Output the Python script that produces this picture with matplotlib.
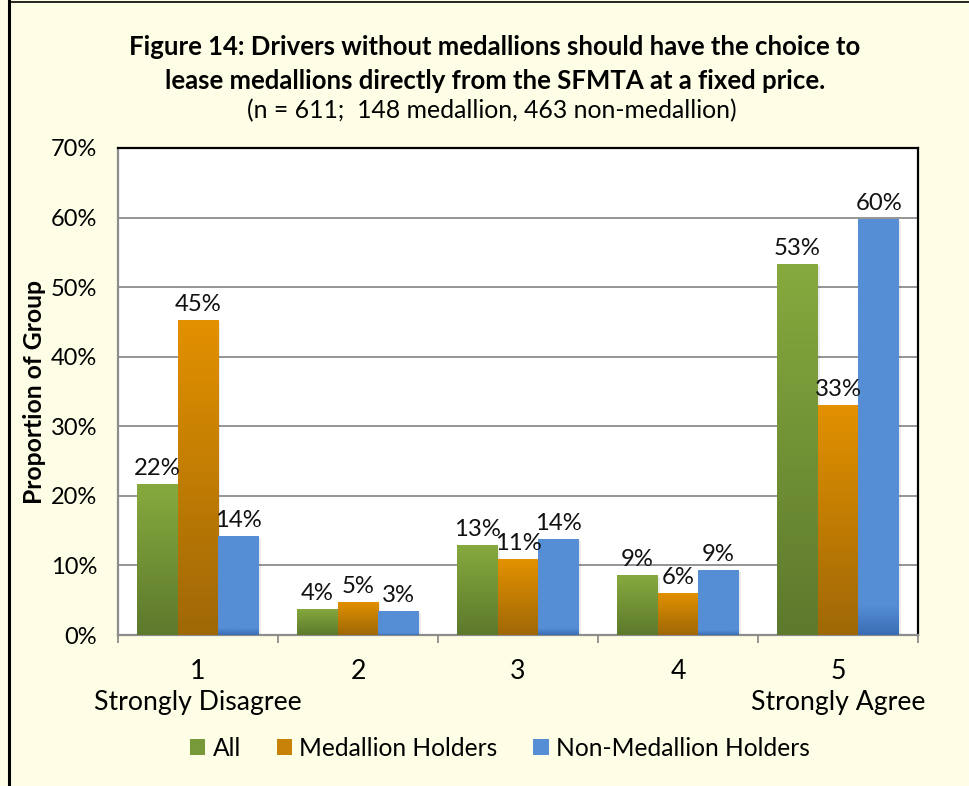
import matplotlib
matplotlib.use("Agg")
import matplotlib.pyplot as plt
import numpy as np
from matplotlib.colors import LinearSegmentedColormap
from matplotlib.patches import Patch, Rectangle
from matplotlib.lines import Line2D

categories = ["1\nStrongly Disagree", "2", "3", "4", "5\nStrongly Agree"]
series_names = ["All", "Medallion Holders", "Non-Medallion Holders"]
all_vals = [21.7, 3.8, 13.0, 8.6, 53.3]
medallion_vals = [45.3, 4.8, 10.9, 6.1, 33.1]
nonmedallion_vals = [14.2, 3.5, 13.8, 9.4, 59.8]
labels_all = ["22%", "4%", "13%", "9%", "53%"]
labels_med = ["45%", "5%", "11%", "6%", "33%"]
labels_non = ["14%", "3%", "14%", "9%", "60%"]

FONT = ["Lato", "DejaVu Sans"]
plt.rcParams["font.family"] = FONT

bg = "#FEFDE5"
fig = plt.figure(figsize=(9.7, 7.86), dpi=100, facecolor=bg)

# outer frame lines (left and top)
fig.add_artist(Line2D([9/970, 9/970], [0, 1], color="black", lw=2.2, transform=fig.transFigure))
fig.add_artist(Line2D([9/970, 1], [1-2/786, 1-2/786], color="black", lw=1.2, transform=fig.transFigure))

ax = fig.add_axes([118/970, (786-635)/786, 800/970, 487/786])
ax.set_facecolor("white")

cmaps = [
    LinearSegmentedColormap.from_list("g", [(0, "#5D792D"), (1, "#86AA3E")]),
    LinearSegmentedColormap.from_list("o", [(0, "#9F6807"), (1, "#E39100")]),
    LinearSegmentedColormap.from_list("b", [(0, "#3A6DB4"), (0.07, "#558ED5"), (1, "#558ED5")]),
]
mid_colors = ["#77993A", "#C98208", "#558ED5"]

x = np.arange(len(categories))
w = 0.254
data = [all_vals, medallion_vals, nonmedallion_vals]
labs = [labels_all, labels_med, labels_non]
grad = np.linspace(0, 1, 256).reshape(-1, 1)

ax.set_xlim(-0.5, len(categories) - 0.5)
ax.set_ylim(0, 70)

for i, (vals, cm, lb) in enumerate(zip(data, cmaps, labs)):
    offs = (i - 1) * w
    bars = ax.bar(x + offs, vals, width=w, color="none", edgecolor="none", zorder=3)
    for b, v, t in zip(bars, vals, lb):
        x0 = b.get_x()
        sh = Rectangle((x0 + 0.012, -0.3), w, v, facecolor="#000000", alpha=0.08, edgecolor="none", zorder=2.5)
        ax.add_patch(sh)
        im = ax.imshow(grad, cmap=cm, aspect="auto", origin="lower",
                       extent=[x0, x0 + w, 0, v], zorder=3)
        im.set_clip_path(b)
        ax.text(x0 + w / 2, v + 0.7, t, ha="center", va="bottom", fontsize=17.2, color="#111111", zorder=4)

ax.set_xlim(-0.5, len(categories) - 0.5)
ax.set_ylim(0, 70)

ax.set_yticks(np.arange(0, 71, 10))
ax.set_yticklabels([f"{v}%" for v in range(0, 71, 10)], fontsize=17)
ax.yaxis.grid(True, color="#8C8C8C", lw=1.3)
ax.set_axisbelow(True)
ax.tick_params(axis="y", length=0, pad=15)

ax.set_xticks(x)
ax.set_xticklabels(categories, fontsize=19.2, linespacing=1.3)
ax.tick_params(axis="x", length=0, pad=17)
ax.set_xticks(np.arange(-0.5, len(categories), 1), minor=True)
ax.tick_params(axis="x", which="minor", length=6, color="#8C8C8C", width=1.3)

for s in ["top", "right"]:
    ax.spines[s].set_color("black")
    ax.spines[s].set_linewidth(1.6)
for s in ["left", "bottom"]:
    ax.spines[s].set_color("#8C8C8C")
    ax.spines[s].set_linewidth(1.6)

ax.set_ylabel("Proportion of Group", fontsize=17.8, fontweight="bold", labelpad=3)

cx = 495 / 970
fig.text(cx, 1 - 47/786, "Figure 14: Drivers without medallions should have the choice to",
         ha="center", va="center", fontsize=18.5, fontweight="bold")
fig.text(cx, 1 - 81/786, "lease medallions directly from the SFMTA at a fixed price.",
         ha="center", va="center", fontsize=18.5, fontweight="bold")
fig.text(492 / 970, 1 - 111/786, "(n = 611;  148 medallion, 463 non-medallion)",
         ha="center", va="center", fontsize=17.8)

handles = [Patch(facecolor=c, edgecolor="none") for c in mid_colors]
fig.legend(handles, series_names, loc="center", bbox_to_anchor=(500/970, 1 - 748/786),
           ncol=3, frameon=False, fontsize=17.7, handlelength=0.62, handleheight=0.62,
           handletextpad=0.3, columnspacing=1.45)

fig.savefig("out.png", dpi=100, facecolor=bg)
